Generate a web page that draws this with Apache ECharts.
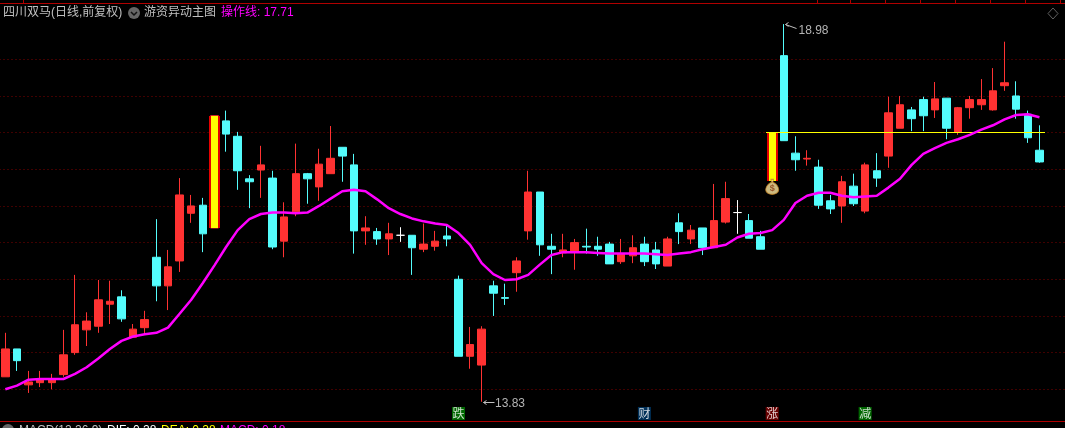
<!DOCTYPE html>
<html>
<head>
<meta charset="utf-8">
<title>四川双马</title>
<style>
  html, body { margin: 0; padding: 0; background: #000; overflow: hidden; }
  #chart { width: 1065px; height: 428px; }
</style>
<script src="https://cdn.jsdelivr.net/npm/echarts@6/dist/echarts.min.js"></script>
</head>
<body>
<div id="chart"></div>
<script>
var opens = [14.17,14.55,14.06,14.09,14.09,14.20,14.50,14.81,14.86,15.16,15.26,14.71,14.84,15.80,15.41,15.75,16.40,16.51,16.20,17.66,
  17.45,16.87,16.99,16.88,16.02,16.42,16.94,16.76,16.94,17.30,17.06,16.16,16.15,16.05,16.10,16.10,15.91,15.95,16.09,15.50,
  14.45,14.33,15.41,15.25,15.59,16.16,16.69,15.95,15.86,15.87,15.95,15.95,15.98,15.74,15.82,15.98,15.90,15.68,16.27,16.05,
  16.20,15.93,16.28,16.41,16.30,16.08,16.85,18.55,17.22,17.14,17.03,16.57,16.50,16.77,16.43,16.98,17.18,17.56,17.81,17.95,
  17.81,17.97,17.51,17.84,17.88,17.81,18.14,18.00,17.75,17.26];
var closes = [14.55,14.39,14.10,14.13,14.14,14.47,14.88,14.93,15.22,15.20,14.96,14.82,14.95,15.41,15.67,16.65,16.50,16.12,17.73,17.48,
  16.98,16.83,17.06,15.94,16.35,16.94,16.87,17.07,17.15,17.18,16.16,16.20,16.05,16.12,16.10,15.93,15.98,16.02,16.05,14.45,
  14.61,14.82,15.31,15.24,15.75,16.69,15.97,15.91,15.90,16.00,15.94,15.91,15.71,15.85,15.93,15.74,15.71,16.05,16.15,16.17,
  15.93,16.30,16.60,16.41,16.06,15.91,17.50,17.39,17.13,17.15,16.51,16.46,16.83,16.53,17.06,16.88,17.77,17.88,17.69,17.73,
  17.96,17.56,17.84,17.95,17.95,18.07,18.18,17.82,17.43,17.10];
var lows = [14.17,14.25,13.95,14.03,14.00,14.17,14.47,14.59,14.77,14.89,14.92,14.70,14.75,15.20,15.08,15.60,16.27,15.87,16.20,17.24,
  16.72,16.47,16.61,15.91,15.80,16.36,16.53,16.57,16.94,16.83,15.85,15.97,15.97,15.83,16.01,15.56,15.87,15.89,15.95,14.45,
  14.28,13.83,15.00,15.15,15.33,16.04,15.82,15.57,15.80,15.63,15.85,15.82,15.71,15.71,15.72,15.68,15.64,15.68,15.98,15.98,
  15.83,15.93,16.26,16.12,16.06,15.91,16.85,17.39,16.98,17.05,16.46,16.39,16.27,16.50,16.40,16.76,17.02,17.56,17.52,17.52,
  17.70,17.41,17.47,17.69,17.81,17.80,18.07,17.69,17.36,17.09];
var highs = [14.77,14.55,14.25,14.25,14.21,14.81,15.56,15.05,15.49,15.48,15.35,14.89,15.07,16.32,15.90,16.88,16.65,16.61,17.73,17.80,
  17.51,16.92,17.32,16.98,16.55,17.35,16.95,17.28,17.59,17.30,17.21,16.36,16.20,16.27,16.21,16.10,16.26,16.16,16.23,15.55,
  14.85,14.86,15.48,15.44,15.80,16.98,16.69,16.12,16.12,16.05,16.19,16.08,16.01,16.05,16.10,16.08,16.01,16.08,16.40,16.24,
  16.20,16.80,16.83,16.58,16.39,16.16,17.50,18.98,17.45,17.26,17.13,16.65,16.91,16.94,17.09,17.22,17.99,18.00,17.85,17.99,
  18.19,17.97,17.85,18.00,18.23,18.38,18.74,18.20,17.80,17.60];
var opLine = [14.00,14.05,14.13,14.14,14.14,14.14,14.21,14.30,14.42,14.55,14.66,14.72,14.75,14.77,14.84,15.03,15.22,15.45,15.69,15.94,
  16.17,16.32,16.39,16.41,16.41,16.40,16.41,16.50,16.60,16.70,16.72,16.70,16.59,16.47,16.39,16.33,16.29,16.26,16.24,16.13,
  15.97,15.72,15.57,15.49,15.50,15.56,15.70,15.83,15.87,15.87,15.87,15.86,15.85,15.85,15.85,15.85,15.84,15.83,15.85,15.87,
  15.91,15.94,15.97,16.07,16.12,16.13,16.17,16.31,16.54,16.64,16.68,16.68,16.64,16.62,16.63,16.64,16.75,16.87,17.06,17.21,
  17.29,17.36,17.41,17.47,17.54,17.60,17.68,17.74,17.75,17.71];
var categories = opens.map(function(v, i) { return String(i); }).concat(['', '']); // two empty slots on the right
var signalIdx = [18, 66];
var bagIdx = 66, bagPrice = 16.76;
var hiIdx = 67, loIdx = 41;
var yellowFrom = 66, yellowTo = 89, yellowPrice = 17.50;
var tagNames = ['跌', '财', '涨', '减'];
var tagIdx = [39, 55, 66, 74];
var tagColors = ['#008000', '#003c6e', '#800000', '#008000'];
var tagPrice = 13.67;

var RED = '#ff3232', CYAN = '#54fcfc', GRID = '#800000', EDGE = '#b00000', TXT = '#c0c0c0', PINK = '#ff00ff';
var FONT = '"Liberation Sans","Noto Sans CJK SC",sans-serif';

var candleData = opens.map(function(o, i) { return [o, closes[i], lows[i], highs[i]]; });

function renderSignal(params, api) {
  var top = api.coord([api.value(0), api.value(2)]);
  var bot = api.coord([api.value(0), api.value(1)]);
  var x = Math.round(top[0] - 0.5);
  return { type: 'group', children: [
    { type: 'rect', shape: { x: x - 5, y: Math.round(top[1]), width: 11, height: Math.round(bot[1] - top[1]) }, style: { fill: '#e60000' } },
    { type: 'rect', shape: { x: x - 3, y: Math.round(top[1]), width: 7, height: Math.round(bot[1] - top[1]) }, style: { fill: '#ffff00' } }
  ] };
}

function renderYellow(params, api) {
  var a = api.coord([api.value(0), api.value(2)]);
  var b = api.coord([api.value(1), api.value(2)]);
  var half = api.size([1, 0])[0] / 2;
  var x = Math.round(a[0] - half);
  return { type: 'rect', shape: { x: x, y: Math.floor(a[1]), width: Math.round(b[0] + half) - x, height: 1 }, style: { fill: '#ffff00' } };
}

// little arrow with the price beside the highest and lowest candle
function renderExtreme(params, api) {
  var p = api.coord([api.value(0), api.value(1)]);
  var x = Math.round(p[0]) + 0.5, y = Math.round(p[1]) + 0.5;
  var isHigh = api.value(2) === 1;
  var dy = isHigh ? 4 : 0;
  return { type: 'group', children: [
    { type: 'line', shape: { x1: x + 1, y1: y, x2: x + 12, y2: y + dy }, style: { stroke: TXT, lineWidth: 1 } },
    { type: 'polyline', shape: { points: [[x + 4, y - 2], [x + 1, y], [x + 4, y + 2]] }, style: { stroke: TXT, fill: 'none', lineWidth: 1 } },
    { type: 'text', style: { x: x + (isHigh ? 14 : 12.5), y: y + (isHigh ? 6 : 1), text: api.value(1).toFixed(2), fill: '#b4b4b4', font: '12px ' + FONT, verticalAlign: 'middle', align: 'left' } }
  ] };
}

function txt(x, y, s, color) {
  return { type: 'text', x: x, y: y, silent: true, style: { text: s, fill: color, font: '12px ' + FONT, verticalAlign: 'middle' } };
}

var topTicks = [23, 817, 850, 885, 920, 955, 990, 1025, 1060];
var chrome = [
  { type: 'rect', shape: { x: 0, y: 3, width: 1065, height: 1 }, style: { fill: EDGE } },
  { type: 'rect', shape: { x: 0, y: 421, width: 1065, height: 1 }, style: { fill: EDGE } },
  txt(3, 13, '四川双马(日线,前复权)', TXT),
  { type: 'circle', shape: { cx: 134, cy: 13, r: 6 }, style: { fill: '#666' } },
  { type: 'polyline', shape: { points: [[131, 12], [134, 15], [137, 12]] }, style: { stroke: '#111', fill: 'none', lineWidth: 1.5 } },
  txt(144, 13, '游资异动主图', TXT),
  txt(221, 13, '操作线: 17.71', PINK),
  { type: 'polygon', shape: { points: [[1053, 8], [1058, 13.5], [1053, 19], [1048, 13.5]] }, style: { stroke: '#606060', fill: 'none', lineWidth: 1 } },
  { type: 'circle', shape: { cx: 8, cy: 430, r: 6 }, style: { fill: '#666' } },
  txt(19, 431, 'MACD(12,26,9)', TXT),
  txt(107, 431, 'DIF: 0.28', '#ffffff'),
  txt(161, 431, 'DEA: 0.28', '#ffff00'),
  txt(220, 431, 'MACD: 0.18', PINK)
];
topTicks.forEach(function(x) {
  chrome.push({ type: 'rect', shape: { x: x, y: 0, width: 1, height: 3 }, style: { fill: EDGE } });
});

var chart = echarts.init(document.getElementById('chart'), null, { renderer: 'canvas' });
chart.setOption({
  backgroundColor: '#000',
  animation: false,
  grid: { left: -0.5, top: 22.63, width: 1069, height: 403.3, outerBoundsMode: 'none' },
  xAxis: { type: 'category', data: categories, show: false, boundaryGap: true },
  yAxis: {
    type: 'value', min: 13.5, max: 19, interval: 0.5, scale: true,
    axisLine: { show: false }, axisTick: { show: false }, axisLabel: { show: false },
    splitLine: { show: true, showMinLine: false, showMaxLine: false, lineStyle: { color: GRID, type: [1, 3], width: 1 } }
  },
  graphic: { elements: chrome },
  series: [
    {
      type: 'candlestick', data: candleData, barWidth: 8, z: 2,
      itemStyle: { color: RED, color0: CYAN, borderColor: RED, borderColor0: CYAN, borderColorDoji: '#ffffff', borderWidth: 1 }
    },
    {
      type: 'custom', z: 3, clip: false, renderItem: renderSignal,
      data: signalIdx.map(function(i) { return [i, opens[i], closes[i]]; })
    },
    {
      type: 'custom', z: 4, clip: false, renderItem: renderYellow,
      data: [[yellowFrom, yellowTo, yellowPrice]]
    },
    { type: 'line', data: opLine, z: 5, showSymbol: false, smooth: false, lineStyle: { color: PINK, width: 2.5 } },
    {
      type: 'custom', z: 6, clip: false, renderItem: renderExtreme,
      data: [[hiIdx, highs[hiIdx], 1], [loIdx, lows[loIdx], 0]]
    },
    {
      type: 'scatter', z: 6, clip: false, data: [[bagIdx, bagPrice]],
      symbol: 'path://M8 0L12 0L11 3C16 4 20 8 20 11C20 14 15 16 10 16C5 16 0 14 0 11C0 8 4 4 9 3Z',
      symbolSize: [13, 15], itemStyle: { color: '#ffe9a0', borderColor: '#c08020', borderWidth: 1 },
      label: { show: true, formatter: '$', position: 'inside', offset: [0, 2], color: '#8a3a10', fontWeight: 'bold', fontSize: 9, fontFamily: FONT }
    },
    {
      type: 'scatter', z: 6, clip: false, symbol: 'rect', symbolSize: 13,
      data: tagIdx.map(function(idx, i) {
        return { value: [idx, tagPrice], itemStyle: { color: tagColors[i] },
          label: { show: true, formatter: tagNames[i], position: 'inside', color: '#fff', fontSize: 12, fontFamily: '"Noto Sans CJK SC",sans-serif' } };
      })
    }
  ]
});
</script>
</body>
</html>
